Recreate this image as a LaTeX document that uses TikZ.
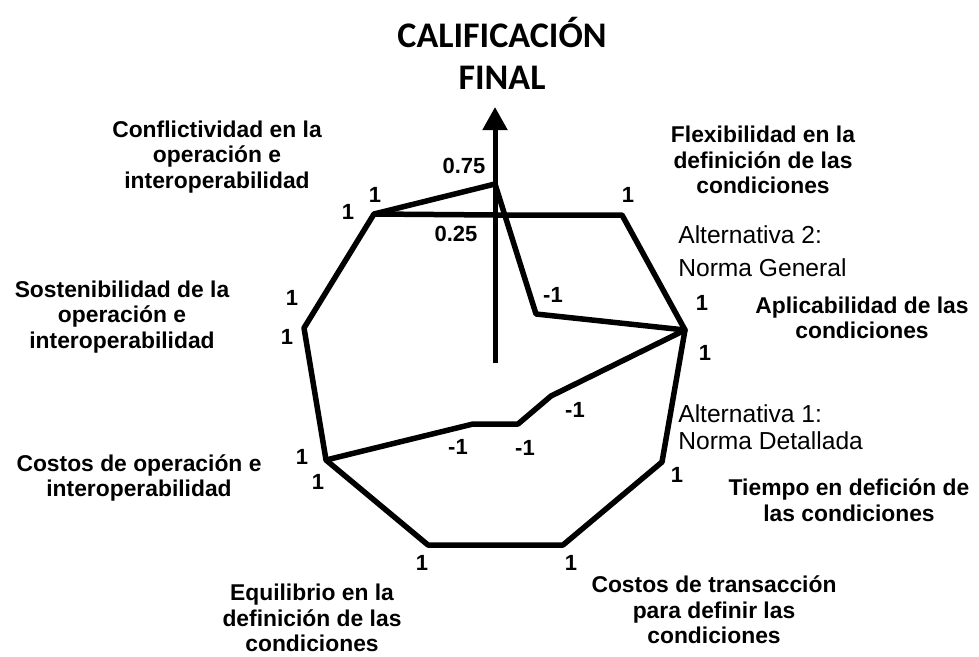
\documentclass[tikz,border=0pt]{standalone}
\usepackage{fontspec}
\setmainfont{Liberation Sans}
\newfontfamily\calibri{Carlito}
\usetikzlibrary{arrows.meta}

\begin{document}
\begin{tikzpicture}[x=0.02cm, y=-0.02cm,
  linea/.style={line width=0.11cm, line join=round},
  eje/.style={line width=0.1cm, -{Triangle[length=0.46cm, width=0.48cm]}},
  crit/.style={font=\bfseries\fontsize{13}{14.5}\selectfont, align=center, inner sep=0pt},
  val/.style={font=\bfseries\fontsize{12.5}{14}\selectfont, inner sep=0pt},
  alt/.style={font=\fontsize{14}{15.5}\selectfont, align=left, anchor=west, inner sep=0pt}]

  \useasboundingbox (0,0) rectangle (979,656);

  % vertices of the outer polygon (value 1 on each criterion)
  \coordinate (conf)   at (374,214);
  \coordinate (flex)   at (622,215);
  \coordinate (aplic)  at (685,330);
  \coordinate (tiempo) at (662,462);
  \coordinate (ctrans) at (563,545);
  \coordinate (equil)  at (428,545);
  \coordinate (costop) at (326,460);
  \coordinate (sosten) at (304,328);

  % Alternativa 2 (Norma General)
  \coordinate (calif2) at (495,184);
  \coordinate (flex2)  at (536,314);
  % Alternativa 1 (Norma Detallada)
  \coordinate (calif1)  at (495,215);
  \coordinate (tiempo1) at (551,396);
  \coordinate (ctrans1) at (518,424);
  \coordinate (equil1)  at (473,424);

  % axis of the final score
  \coordinate (base) at (495,363);
  \coordinate (tip)  at (495,107);
  \draw[eje] (base) -- (tip);

  % the two alternatives
  \draw[linea] (sosten) -- (conf) -- (calif2) -- (flex2) -- (aplic) -- (tiempo)
    -- (ctrans) -- (equil) -- (costop) -- cycle;
  \draw[linea] (conf) -- (calif1) -- (flex) -- (aplic) -- (tiempo1) -- (ctrans1)
    -- (equil1) -- (costop);

  % title
  \node[font=\calibri\bfseries\fontsize{20.5}{24}\selectfont, align=center, inner sep=0pt]
    (titulo) at (502,53) {CALIFICACIÓN\\FINAL};

  % criteria
  \node[crit] (lconf)   at (217,157) {Conflictividad en la\\operación e\\interoperabilidad};
  \node[crit] (lflex)   at (763,160) {Flexibilidad en la\\definición de las\\condiciones};
  \node[crit] (laplic)  at (862,318) {Aplicabilidad de las\\condiciones};
  \node[crit] (ltiempo) at (849,500) {Tiempo en defición de\\las condiciones};
  \node[crit] (lctrans) at (714,610) {Costos de transacción\\para definir las\\condiciones};
  \node[crit] (lequil)  at (312,618) {Equilibrio en la\\definición de las\\condiciones};
  \node[crit] (lcostop) at (139,478) {Costos de operación e\\interoperabilidad};
  \node[crit] (lsosten) at (122,317) {Sostenibilidad de la\\operación e\\interoperabilidad};

  % alternatives
  \node[alt] (alt2) at (678,251) {Alternativa 2:\\[3pt]Norma General};
  \node[alt] (alt1) at (678,427) {Alternativa 1:\\Norma Detallada};

  % values
  \node[val] (v1)  at (348,212) {1};
  \node[val] (v2)  at (375,195) {1};
  \node[val] (v3)  at (628,195) {1};
  \node[val] (v4)  at (702,303) {1};
  \node[val] (v5)  at (705,353) {1};
  \node[val] (v6)  at (677,475) {1};
  \node[val] (v7)  at (571,563) {1};
  \node[val] (v8)  at (422,563) {1};
  \node[val] (v9)  at (302,457) {1};
  \node[val] (v10) at (318,482) {1};
  \node[val] (v11) at (292,298) {1};
  \node[val] (v12) at (287,337) {1};
  \node[val] (c75) at (464,166) {0.75};
  \node[val] (c25) at (456,234) {0.25};
  \node[val] (m1)  at (553,295) {-1};
  \node[val] (m2)  at (575,410) {-1};
  \node[val] (m3)  at (525,448) {-1};
  \node[val] (m4)  at (458,447) {-1};

\end{tikzpicture}
\end{document}
